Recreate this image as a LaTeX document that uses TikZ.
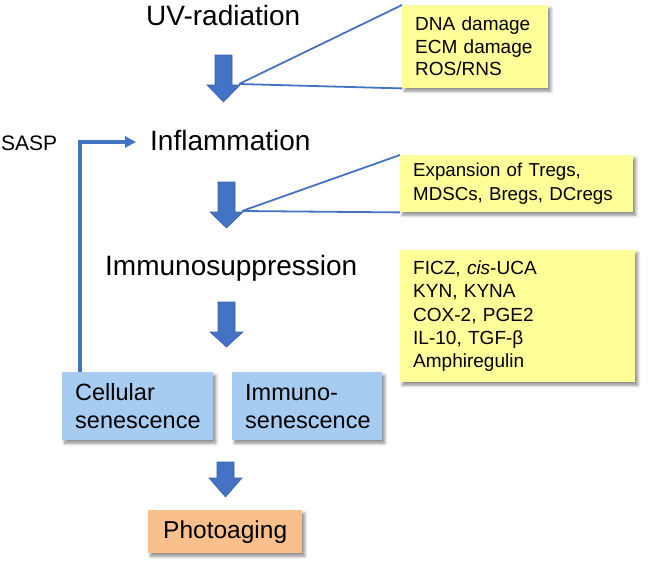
\documentclass[tikz,border=0pt]{standalone}
\usepackage{fontspec}
\setmainfont{Liberation Sans}
\usetikzlibrary{arrows.meta,shadows.blur,calc}
\definecolor{arrblue}{HTML}{4472C4}
\definecolor{arredge}{HTML}{3A62AC}
\definecolor{noteyellow}{HTML}{FFFF99}
\definecolor{cellblue}{HTML}{A6CCF2}
\definecolor{photoorange}{HTML}{F9C08C}
\newcommand\blockarr[4]{%
  \filldraw[blockarrow] ({#1-8.5},#2) -- ({#1+8.5},#2) -- ({#1+8.5},#3) -- ({#1+16.5},#3)
    -- (#1,#4) -- ({#1-16.5},#3) -- ({#1-8.5},#3) -- cycle;}
\newcommand\oneline[1]{\mbox{#1}}
\begin{document}
\begin{tikzpicture}[x=1pt,y=-1pt,
  blockarrow/.style={fill=arrblue,draw=arredge,line width=0.6pt},
  title/.style={font=\fontsize{28}{32}\selectfont,inner sep=0pt,anchor=base west},
  shadowed/.style={blur shadow={shadow xshift=2.5pt,shadow yshift=-3pt,shadow blur radius=3pt,shadow opacity=45}},
  notebox/.style={shadowed,fill=noteyellow,anchor=north west,align=left,inner xsep=13pt,inner ysep=0pt,
     font=\fontsize{19}{22.5}\selectfont},
  senbox/.style={shadowed,fill=cellblue,anchor=north west,align=left,inner xsep=13pt,inner ysep=0pt,
     minimum height=68pt,font=\fontsize{23.5}{28}\selectfont},
  thinlink/.style={draw=arrblue,line width=1.8pt},
  sasplink/.style={draw=arrblue,line width=3.2pt,-{Triangle[length=11pt,width=11pt]}}
]
\useasboundingbox (0,0) rectangle (648,574);

% titles
\node[title] (uv) at (146,25) {UV-radiation};
\node[title] (infl) at (150,150) {Inflammation};
\node[title] (immsup) at (105,275) {Immunosuppression};

% block arrows
\blockarr{223.5}{55}{85}{102}
\blockarr{226.5}{182}{212}{228}
\blockarr{226.5}{302}{332}{347}
\blockarr{225.5}{462}{478}{497}
\coordinate (h1) at (239,84);
\coordinate (h2) at (242,211);

% yellow notes
\node[notebox,text width=120pt,minimum height=83pt] (y1) at (402,5)
  {\oneline{DNA damage}\\\oneline{ECM damage}\\\oneline{ROS/RNS}};
\node[notebox,text width=207pt,minimum height=57pt,font=\fontsize{18.7}{23.5}\selectfont] (y2) at (400,155)
  {\oneline{Expansion of Tregs,}\\\oneline{MDSCs, Bregs, DCregs}};
\node[notebox,text width=209pt,minimum height=132pt,font=\fontsize{19}{23.25}\selectfont] (y3) at (400,250)
  {\oneline{FICZ, \textit{cis}-UCA}\\\oneline{KYN, KYNA}\\\oneline{COX-2, PGE2}\\\oneline{IL-10, TGF-β}\\\oneline{Amphiregulin}};

\draw[thinlink] (h1) -- (y1.north west);
\draw[thinlink] (h1) -- (y1.south west);
\draw[thinlink] (h2) -- (y2.north west);
\draw[thinlink] (h2) -- (y2.south west);

% senescence boxes
\node[senbox,text width=125pt] (cell) at (62,372) {\oneline{Cellular}\\\oneline{senescence}};
\node[senbox,text width=124pt] (immsen) at (232,372) {\oneline{Immuno-}\\\oneline{senescence}};

% photoaging
\node[shadowed,fill=photoorange,anchor=north west,minimum width=154pt,minimum height=43pt,inner sep=0pt,
  font=\fontsize{24.5}{28}\selectfont] (photo) at (148,510) {Photoaging};

% SASP feedback
\node[inner sep=0pt,anchor=base west,font=\fontsize{21}{25}\selectfont] (sasp) at (1,150) {SASP};
\coordinate (sa) at (80,142);
\coordinate (sb) at (136,142);
\draw[sasplink] (cell.north -| sa) -- (sa) -- (sb);
\end{tikzpicture}
\end{document}
